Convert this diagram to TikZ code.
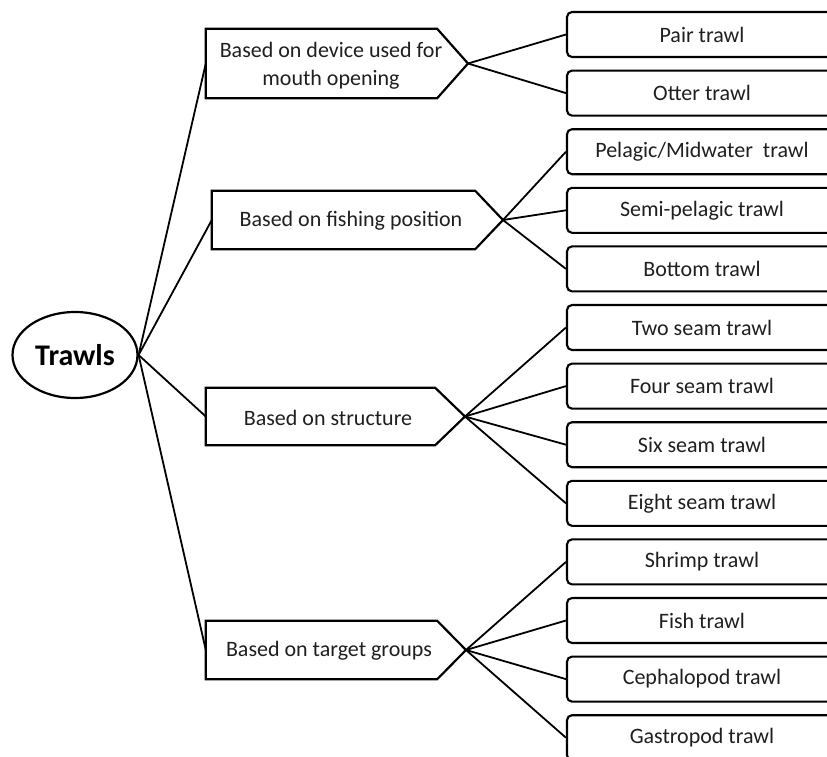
\documentclass[tikz,border=0pt]{standalone}
\usepackage{fontspec}
\setmainfont{Carlito}
\usetikzlibrary{shapes.geometric}
\begin{document}
\begin{tikzpicture}[x=1pt,y=-1pt]
\tikzset{
  txt/.style={font=\fontsize{22}{28}\selectfont, text=black!88, align=center},
  leaf/.style={draw, line width=2.1pt, rounded corners=5pt, minimum width=270pt, minimum height=45pt, inner sep=0pt, txt},
  rectpart/.style={inner sep=0pt, draw=none},
  pent/.style={draw, line width=2.2pt, line join=miter},
  conn/.style={line width=1.8pt},
  root/.style={draw, ellipse, line width=2.2pt, minimum width=125pt, minimum height=86pt, inner sep=0pt, font=\fontsize{30}{34}\selectfont\bfseries}
}
\useasboundingbox (0,0) rectangle (827,756);
\clip (0,0) rectangle (827,756);

% root
\node[root] (T) at (75,355) {Trawls};

% category pentagons (rectangular parts)
\node[rectpart, minimum width=231pt, minimum height=69pt] (p1) at (321.5,63.5) {};
\coordinate (p1tip) at (468,63.5);
\node[rectpart, minimum width=263pt, minimum height=58pt] (p2) at (343.5,220) {};
\coordinate (p2tip) at (503,220);
\node[rectpart, minimum width=229pt, minimum height=57pt] (p3) at (320.5,416.5) {};
\coordinate (p3tip) at (465,416.5);
\node[rectpart, minimum width=231pt, minimum height=58pt] (p4) at (321.5,650) {};
\coordinate (p4tip) at (466,650);

\foreach \p in {p1,p2,p3,p4}{
  \draw[pent] (\p.north west) -- (\p.north east) -- (\p tip) -- (\p.south east) -- (\p.south west) -- cycle;
}

\node[txt] (p1t) at (331,66) {Based on device used for\\mouth opening};
\node[txt] (p2t) at (351,221) {Based on fishing position};
\node[txt] (p3t) at (328,417.5) {Based on structure};
\node[txt] (p4t) at (329,651) {Based on target groups};

% leaves
\node[leaf] (b1) at (702,34.5) {Pair trawl};
\node[leaf] (b2) at (702,93.1) {Otter trawl};
\node[leaf] (b3) at (702,151.7) {Pelagic/Midwater\ \ trawl};
\node[leaf] (b4) at (702,210.3) {Semi-pelagic trawl};
\node[leaf] (b5) at (702,268.9) {Bottom trawl};
\node[leaf] (b6) at (702,327.5) {Two seam trawl};
\node[leaf] (b7) at (702,386.1) {Four seam trawl};
\node[leaf] (b8) at (702,444.7) {Six seam trawl};
\node[leaf] (b9) at (702,503.3) {Eight seam trawl};
\node[leaf] (b10) at (702,561.9) {Shrimp trawl};
\node[leaf] (b11) at (702,620.5) {Fish trawl};
\node[leaf] (b12) at (702,679.1) {Cephalopod trawl};
\node[leaf] (b13) at (702,737.7) {Gastropod trawl};

% connectors
\foreach \p in {p1,p2,p3,p4}{ \draw[conn] (T.east) -- (\p.west); }
\foreach \b in {b1,b2}{ \draw[conn] (p1tip) -- (\b.west); }
\foreach \b in {b3,b4,b5}{ \draw[conn] (p2tip) -- (\b.west); }
\foreach \b in {b6,b7,b8,b9}{ \draw[conn] (p3tip) -- (\b.west); }
\foreach \b in {b10,b11,b12,b13}{ \draw[conn] (p4tip) -- (\b.west); }
\end{tikzpicture}
\end{document}
